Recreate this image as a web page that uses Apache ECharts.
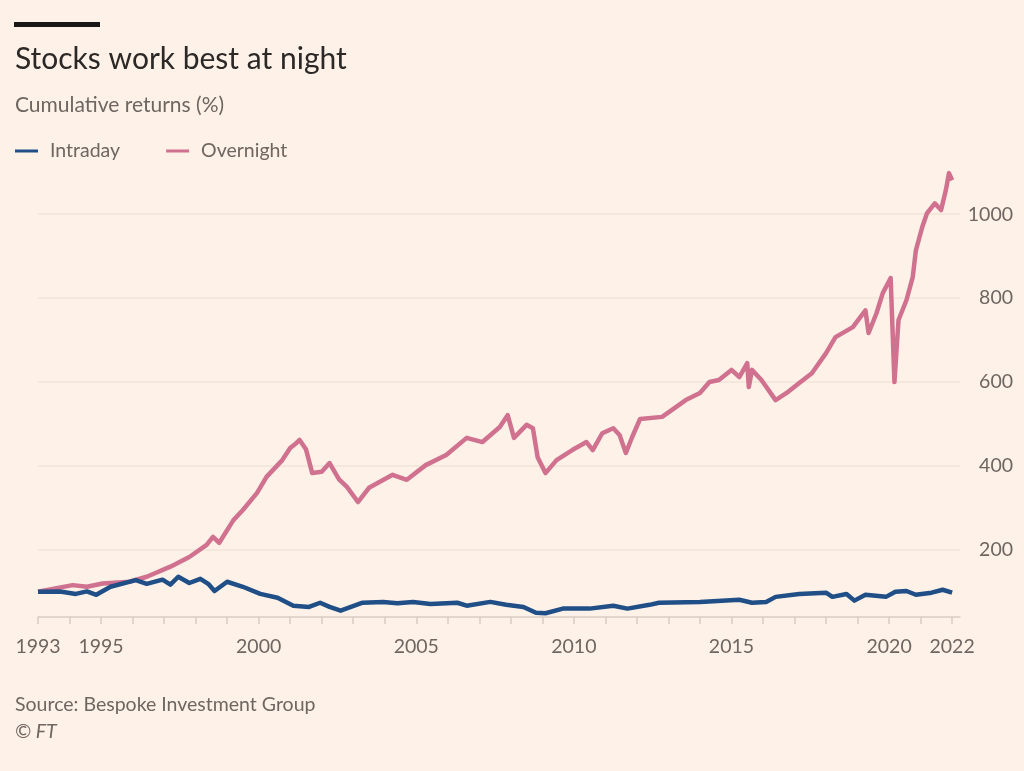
<!DOCTYPE html>
<html lang="en">
<head>
<meta charset="UTF-8">
<title>Stocks work best at night</title>
<script src="https://cdn.jsdelivr.net/npm/echarts@6/dist/echarts.min.js"></script>
<style>
  html, body { margin: 0; padding: 0; background: #fdf1e8; }
  #main { width: 1024px; height: 771px; }
</style>
</head>
<body>
<div id="main"></div>
<script>
// cumulative returns (%), [year, value]
var intraday = [
  [1993.0, 100], [1993.7, 101], [1994.2, 95], [1994.55, 101], [1994.85, 93],
  [1995.3, 112], [1996.1, 128], [1996.45, 119], [1996.95, 129], [1997.2, 117],
  [1997.45, 136], [1997.8, 121], [1998.15, 131], [1998.4, 119], [1998.6, 102],
  [1999.0, 124], [1999.5, 112], [2000.05, 95], [2000.6, 86], [2001.1, 67],
  [2001.6, 64], [2001.95, 74], [2002.25, 64], [2002.6, 55], [2003.3, 74],
  [2003.95, 76], [2004.4, 73], [2004.9, 76], [2005.45, 71], [2006.3, 74],
  [2006.6, 67], [2007.35, 76], [2007.85, 69], [2008.4, 64], [2008.8, 50],
  [2009.1, 49], [2009.65, 60], [2010.5, 60], [2011.25, 67], [2011.7, 60],
  [2012.4, 69], [2012.7, 74], [2014.0, 76], [2015.25, 81], [2015.65, 74],
  [2016.1, 76], [2016.4, 88], [2017.15, 95], [2018.0, 98], [2018.2, 88],
  [2018.65, 95], [2018.9, 79], [2019.25, 93], [2019.9, 88], [2020.2, 100],
  [2020.55, 102], [2020.85, 93], [2021.35, 98], [2021.7, 105], [2022.0, 98]
];

var overnight = [
  [1993.0, 100], [1994.1, 116], [1994.55, 112], [1995.05, 120], [1995.9, 124],
  [1996.45, 136], [1997.2, 160], [1997.8, 183], [1998.35, 212], [1998.55, 231],
  [1998.75, 217], [1999.2, 271], [1999.5, 295], [1999.95, 336], [2000.25, 374],
  [2000.75, 414], [2001.0, 443], [2001.2, 455], [2001.3, 462], [2001.5, 440],
  [2001.7, 383], [2002.0, 386], [2002.25, 407], [2002.55, 368], [2002.8, 350],
  [2003.15, 314], [2003.5, 348], [2004.25, 379], [2004.7, 367], [2005.3, 402],
  [2005.95, 426], [2006.6, 467], [2007.1, 457], [2007.65, 493], [2007.9, 521],
  [2008.1, 467], [2008.5, 498], [2008.7, 490], [2008.85, 421], [2009.1, 383],
  [2009.45, 414], [2009.95, 438], [2010.4, 457], [2010.6, 438], [2010.9, 478],
  [2011.25, 490], [2011.45, 474], [2011.65, 431], [2011.85, 469], [2012.1, 512],
  [2012.8, 517], [2013.55, 557], [2014.0, 574], [2014.3, 600], [2014.6, 605],
  [2015.0, 629], [2015.25, 612], [2015.5, 645], [2015.55, 588], [2015.65, 629],
  [2015.95, 605], [2016.4, 557], [2016.75, 574], [2017.15, 598], [2017.55, 621],
  [2018.0, 669], [2018.3, 707], [2018.85, 731], [2019.25, 771], [2019.35, 717],
  [2019.6, 764], [2019.8, 812], [2020.05, 848], [2020.17, 600], [2020.3, 748],
  [2020.55, 795], [2020.75, 850], [2020.85, 914], [2021.05, 969], [2021.2, 1002],
  [2021.45, 1026], [2021.65, 1010], [2021.8, 1057], [2021.9, 1098], [2022.0, 1081]
];

var tickYears = [1993, 1994, 1995, 1996, 1997, 1998, 1999, 2000, 2001, 2002,
  2003, 2004, 2005, 2006, 2007, 2008, 2009, 2010, 2011, 2012,
  2013, 2014, 2015, 2016, 2017, 2018, 2019, 2020, 2021, 2022];
var labelYears = [1993, 1995, 2000, 2005, 2010, 2015, 2020, 2022];
var yLabels = [200, 400, 600, 800, 1000];

var blue = '#1f4f86';
var pink = '#d0718f';
var grey = '#6e6661';
var font = 'Lato';

var myChart = echarts.init(document.getElementById('main'));

myChart.setOption({
  backgroundColor: '#fdf1e8',
  animation: false,
  textStyle: { fontFamily: font },
  graphic: [
    {
      type: 'rect',
      left: 14, top: 22,
      shape: { width: 86, height: 5 },
      style: { fill: '#1a1817' }
    }
  ],
  title: [
    {
      text: 'Stocks work best at night',
      left: 10, top: 39,
      textStyle: { fontFamily: font, fontSize: 30, fontWeight: 'normal', color: '#2b2826' }
    },
    {
      text: 'Cumulative returns (%)',
      left: 10, top: 90,
      textStyle: { fontFamily: font, fontSize: 21, fontWeight: 'normal', color: grey }
    },
    {
      text: 'Source: Bespoke Investment Group',
      left: 10, top: 690,
      textStyle: { fontFamily: font, fontSize: 19.5, fontWeight: 'normal', color: grey }
    },
    {
      text: '© FT',
      left: 10, top: 717,
      textStyle: { fontFamily: font, fontSize: 19.5, fontWeight: 'normal', fontStyle: 'italic', color: grey }
    }
  ],
  legend: {
    left: 10, top: 136,
    icon: 'rect',
    itemWidth: 23, itemHeight: 3,
    itemGap: 46,
    textStyle: { fontFamily: font, fontSize: 19.5, color: grey, padding: [0, 0, 0, 7] },
    data: ['Intraday', 'Overnight']
  },
  grid: { left: 38, right: 64, top: 166, bottom: 154, containLabel: false },
  xAxis: {
    type: 'value',
    min: 1993,
    max: 2022.25,
    axisLine: { lineStyle: { color: '#d8cdc4', width: 1.5 } },
    axisTick: { show: true, length: 7, customValues: tickYears, lineStyle: { color: '#d8cdc4', width: 1.5 } },
    axisLabel: {
      customValues: labelYears,
      margin: 20,
      fontFamily: font, fontSize: 19.5, color: grey,
      formatter: function (v) { return String(v); }
    },
    splitLine: { show: false }
  },
  yAxis: {
    type: 'value',
    position: 'right',
    min: 40,
    max: 1115,
    axisLine: { show: false },
    axisTick: { show: false, customValues: yLabels },
    axisLabel: {
      customValues: yLabels,
      align: 'right',
      margin: 53,
      fontFamily: font, fontSize: 19.5, color: grey,
      formatter: function (v) { return String(v); }
    },
    splitLine: { show: true, lineStyle: { color: '#f1e4d9', width: 1.5 } }
  },
  series: [
    {
      name: 'Intraday',
      type: 'line',
      data: intraday,
      showSymbol: false,
      color: blue,
      lineStyle: { color: blue, width: 4.5, join: 'round' },
      z: 3
    },
    {
      name: 'Overnight',
      type: 'line',
      data: overnight,
      showSymbol: false,
      color: pink,
      lineStyle: { color: pink, width: 4.5, join: 'round' },
      z: 2
    }
  ]
});
</script>
</body>
</html>
